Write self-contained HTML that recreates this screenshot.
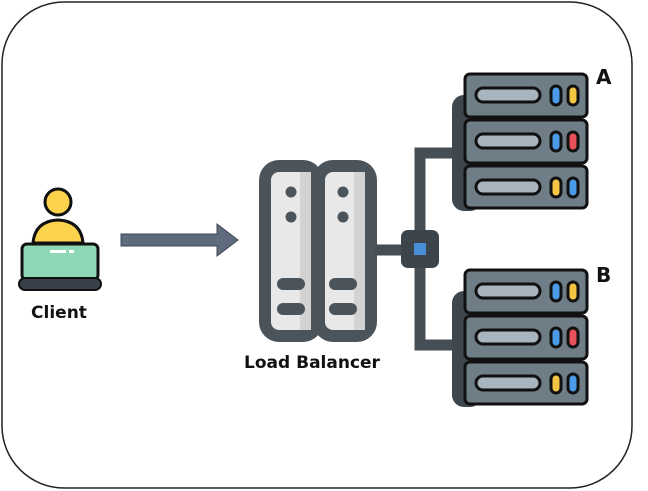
<!DOCTYPE html>
<html><head><style>body{margin:0;background:#fff}svg{display:block}</style></head><body>
<svg width="648" height="491" viewBox="0 0 648 491" xmlns="http://www.w3.org/2000/svg">
<rect x="2" y="2" width="630" height="486" rx="62" fill="#fff" stroke="#222" stroke-width="1.5"/>
<!-- client -->
<circle cx="58" cy="202" r="13" fill="#fcd34d" stroke="#111" stroke-width="3"/>
<path d="M33 243 Q35 221 58 220 Q81 221 83 243 Z" fill="#fcd34d" stroke="#111" stroke-width="3"/>
<rect x="22" y="244" width="76" height="36" rx="5" fill="#8fd8b5" stroke="#111" stroke-width="3"/>
<rect x="50" y="250" width="16" height="3" fill="#fff"/><rect x="69" y="250" width="5" height="3" fill="#fff"/>
<rect x="19" y="278" width="82" height="12" rx="6" fill="#37404a" stroke="#111" stroke-width="2"/>
<text x="59" y="318" text-anchor="middle" font-family="'Comic Sans MS','DejaVu Sans',sans-serif" font-weight="bold" font-size="17" fill="#111">Client</text>
<!-- arrow -->
<polygon points="121,234 217,234 217,224 238,240 217,256 217,246 121,246" fill="#5d6b7d" stroke="#3d4654" stroke-width="1"/>
<!-- load balancer -->
<rect x="259" y="160" width="64" height="182" rx="20" fill="#4b545b"/>
<rect x="313" y="160" width="64" height="182" rx="20" fill="#4b545b"/>
<rect x="271" y="172" width="40" height="158" rx="8" fill="#e8e8e8"/>
<rect x="325" y="172" width="40" height="158" rx="8" fill="#e8e8e8"/>
<rect x="300" y="172" width="11" height="158" fill="#d3d3d3"/><rect x="354" y="172" width="11" height="158" fill="#d3d3d3"/>
<g fill="#4b545b"><circle cx="291" cy="192" r="5.5"/><circle cx="291" cy="217" r="5.5"/><circle cx="343" cy="192" r="5.5"/><circle cx="343" cy="217" r="5.5"/>
<rect x="277" y="278" width="28" height="12" rx="6"/><rect x="277" y="303" width="28" height="12" rx="6"/><rect x="329" y="278" width="28" height="12" rx="6"/><rect x="329" y="303" width="28" height="12" rx="6"/></g>
<text x="312" y="368" text-anchor="middle" font-family="'Comic Sans MS','DejaVu Sans',sans-serif" font-weight="bold" font-size="17" fill="#111">Load Balancer</text>
<!-- connectors -->
<g stroke="#454e55" stroke-width="11" fill="none">
<line x1="375" y1="250" x2="405" y2="250"/>
<path d="M460 153 H420 V345 H460"/>
</g>
<rect x="401" y="230" width="38" height="38" rx="7" fill="#3c454c"/>
<rect x="414" y="243" width="12" height="12" fill="#4a8fd6"/>
<!-- server stacks -->
<g id="s">
<rect x="452" y="95" width="30" height="116" rx="12" fill="#3e474e"/>
<g stroke="#111" stroke-width="3">
<rect x="465" y="74" width="122" height="43" rx="5" fill="#6f7d86"/>
<rect x="465" y="120" width="122" height="43" rx="5" fill="#6f7d86"/>
<rect x="465" y="166" width="122" height="42" rx="5" fill="#6f7d86"/>
<g fill="#a8b4be"><rect x="476" y="88" width="64" height="14" rx="7"/><rect x="476" y="134" width="64" height="14" rx="7"/><rect x="476" y="180" width="64" height="14" rx="7"/></g>
<rect x="551" y="86" width="10" height="19" rx="5" fill="#4a9ae8"/><rect x="568" y="86" width="10" height="19" rx="5" fill="#f4c542"/>
<rect x="551" y="132" width="10" height="19" rx="5" fill="#4a9ae8"/><rect x="568" y="132" width="10" height="19" rx="5" fill="#e8505b"/>
<rect x="551" y="178" width="10" height="19" rx="5" fill="#f4c542"/><rect x="568" y="178" width="10" height="19" rx="5" fill="#4a9ae8"/>
</g>
</g>
<use href="#s" y="196"/>
<text x="596" y="84" font-family="'Comic Sans MS','DejaVu Sans',sans-serif" font-weight="bold" font-size="20" fill="#111">A</text>
<text x="596" y="282" font-family="'Comic Sans MS','DejaVu Sans',sans-serif" font-weight="bold" font-size="20" fill="#111">B</text>
</svg>
</body></html>
